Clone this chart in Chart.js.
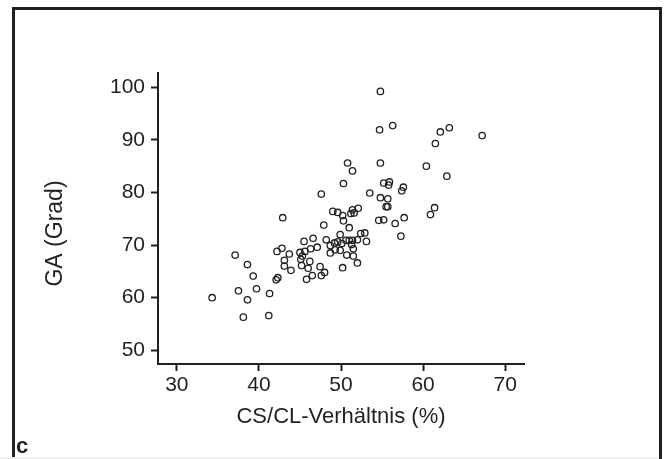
<!DOCTYPE html>
<html>
<head>
<meta charset="utf-8">
<script src="https://cdn.jsdelivr.net/npm/chart.js@4"></script>
<style>
  body { margin: 0; background: #fff; }
  #wrap { position: relative; width: 666px; height: 459px; overflow: hidden; }
  #frame { position: absolute; left: 12px; top: 7px; width: 644px; height: 470px; border: 3px solid #231f20; border-bottom: none; }
  #base { position: absolute; left: 0; top: 457px; width: 659px; height: 2px; background: #eeeeee; }
  #tag { position: absolute; left: 16px; top: 433px; font: bold 22px "Liberation Sans", Arial, sans-serif; color: #231f20; }
  #c1 { position: absolute; left: 0; top: 0; }
</style>
</head>
<body>
<div id="wrap">
  <div id="frame"></div>
  <div id="base"></div>
  <canvas id="c1" width="666" height="459"></canvas>
  <div id="tag">c</div>
</div>
<script>
// CS/CL-Verhaeltnis (%) vs GA (Grad)
var csCl = [54.8, 54.7, 56.3, 63.2, 62.1, 61.5, 67.2, 50.8, 54.8, 51.4,
            60.4, 62.9, 50.3, 55.2, 55.9, 55.8, 53.5, 47.6, 57.6, 57.4,
            54.8, 55.7, 55.5, 55.7, 61.4, 52.1, 51.4, 49.0, 49.6, 51.2,
            51.6, 50.2, 42.9, 57.7, 60.9, 54.6, 55.2, 50.3, 56.6, 47.9,
            51.0, 52.4, 52.9, 49.9, 57.3, 46.6, 45.5, 48.2, 50.6, 51.0,
            51.4, 52.0, 53.1, 49.2, 49.6, 50.1, 51.3, 48.7, 47.1, 46.3,
            42.8, 49.3, 49.9, 51.5, 42.2, 45.6, 45.0, 43.7, 48.7, 37.1,
            50.7, 51.5, 45.3, 45.1, 43.1, 46.2, 52.0, 38.6, 45.2, 43.1,
            46.0, 47.45, 50.2, 43.9, 48.0, 47.6, 46.5, 39.3, 42.3, 42.1,
            45.8, 39.7, 37.5, 41.3, 34.3, 38.6, 41.2, 38.1];
var ga = [99.2, 91.9, 92.7, 92.3, 91.5, 89.3, 90.8, 85.6, 85.6, 84.1,
          85.0, 83.1, 81.7, 81.8, 82.0, 81.4, 79.9, 79.7, 81.0, 80.3,
          79.0, 78.8, 77.3, 77.3, 77.1, 77.0, 76.7, 76.4, 76.2, 76.0,
          76.1, 75.6, 75.2, 75.2, 75.8, 74.7, 74.8, 74.6, 74.1, 73.8,
          73.3, 72.2, 72.3, 72.0, 71.7, 71.3, 70.7, 71.0, 70.9, 70.9,
          70.9, 71.0, 70.7, 70.4, 70.6, 70.3, 70.1, 69.9, 69.6, 69.3,
          69.4, 69.1, 69.0, 69.3, 68.8, 68.8, 68.6, 68.3, 68.5, 68.1,
          68.1, 67.9, 67.9, 67.3, 67.1, 66.9, 66.6, 66.3, 66.1, 66.0,
          65.6, 65.9, 65.7, 65.2, 64.8, 64.2, 64.2, 64.1, 63.8, 63.4,
          63.5, 61.7, 61.3, 60.8, 60.0, 59.6, 56.6, 56.3];
var xTicks = [30, 40, 50, 60, 70];
var yTicks = [50, 60, 70, 80, 90, 100];

var ink = '#231f20';
var fam = '"Liberation Sans", Arial, sans-serif';

var pts = [];
for (var i = 0; i < csCl.length; i++) {
    pts.push({x: csCl[i], y: ga[i]});
}

// y title sits a bit below the middle of the axis in the original
var yTitle = {
    id: 'yTitle',
    afterDraw: function (chart) {
        var s = chart.scales.y, ctx = chart.ctx;
        ctx.save();
        ctx.translate(56, (s.top + s.bottom) / 2 + 15);
        ctx.rotate(-Math.PI / 2);
        ctx.font = '23px ' + fam;
        ctx.fillStyle = ink;
        ctx.textAlign = 'center';
        ctx.textBaseline = 'middle';
        ctx.fillText('GA (Grad)', 0, 0);
        ctx.restore();
    }
};

new Chart(document.getElementById('c1').getContext('2d'), {
    type: 'scatter',
    data: {
        datasets: [{
            data: pts,
            pointRadius: 3.2,
            pointHoverRadius: 3.2,
            borderWidth: 1.3,
            borderColor: ink,
            backgroundColor: 'rgba(0,0,0,0)'
        }]
    },
    options: {
        responsive: false,
        animation: false,
        events: [],
        layout: { padding: { left: 0, top: 73, right: 142, bottom: 0 } },
        plugins: { legend: { display: false }, tooltip: { enabled: false } },
        scales: {
            x: {
                type: 'linear',
                min: 27.7,
                max: 72.3,
                afterBuildTicks: function (s) { s.ticks = xTicks.map(function (v) { return {value: v}; }); },
                afterFit: function (s) { s.height = 95; },
                border: { display: true, color: ink, width: 2 },
                grid: { drawOnChartArea: false, drawTicks: true, tickLength: 7, tickWidth: 2, tickColor: ink },
                ticks: { padding: 2, color: ink, font: { family: fam, size: 21 } },
                title: { display: true, text: 'CS/CL-Verhältnis (%)', color: ink,
                         font: { family: fam, size: 22 }, padding: { top: 0, bottom: 29 } }
            },
            y: {
                type: 'linear',
                min: 47.4,
                max: 102.7,
                afterBuildTicks: function (s) { s.ticks = yTicks.map(function (v) { return {value: v}; }); },
                afterFit: function (s) { s.width = 158; },
                border: { display: true, color: ink, width: 2 },
                grid: { drawOnChartArea: false, drawTicks: true, tickLength: 7, tickWidth: 2, tickColor: ink },
                ticks: { padding: 6, color: ink, font: { family: fam, size: 21 } },
                title: { display: false }
            }
        }
    },
    plugins: [yTitle]
});
</script>
</body>
</html>
